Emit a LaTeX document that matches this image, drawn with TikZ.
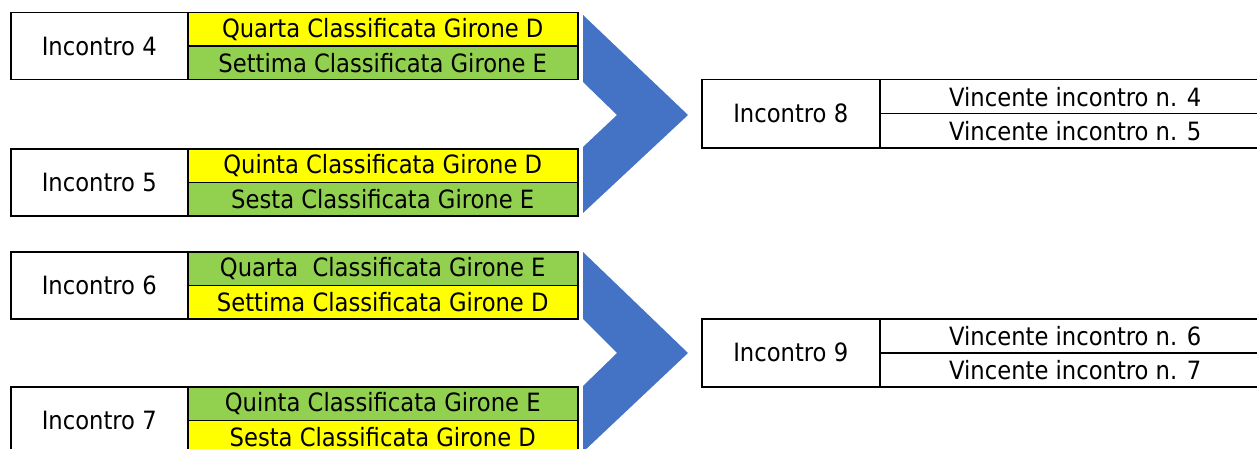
\documentclass[tikz,border=0pt]{standalone}
\usepackage{fontspec}
\setmainfont{DejaVu Sans Condensed}
\definecolor{giallo}{HTML}{FFFF00}
\definecolor{verde}{HTML}{92D050}
\definecolor{blu}{HTML}{4472C4}

\begin{document}
\begin{tikzpicture}[x=0.5pt, y=-0.5pt,
    every node/.style={draw, line width=0.75pt, inner sep=0pt, anchor=north west,
        font=\fontsize{12.6}{15}\selectfont},
    nome/.style={minimum width=88.5pt, minimum height=33.5pt, fill=white},
    riga/.style={minimum width=195pt, minimum height=16.75pt},
    gialla/.style={riga, fill=giallo},
    verde/.style={riga, fill=verde},
    vinc/.style={minimum width=195.5pt, minimum height=17pt, fill=white},
    freccia/.style={fill=blu}]
    \clip (0, 0) rectangle (1257, 449);

    \node[nome] (i4) at (10, 12) {Incontro 4};
    \node[gialla] (i4a) at (187, 12) {Quarta Classificata Girone D};
    \node[verde] (i4b) at (187, 45.5) {Settima Classificata Girone E};

    \node[nome] (i5) at (10, 148) {Incontro 5};
    \node[gialla] (i5a) at (187, 148) {Quinta Classificata Girone D};
    \node[verde] (i5b) at (187, 181.5) {Sesta Classificata Girone E};

    \node[nome] (i6) at (10, 251) {Incontro 6};
    \node[verde] (i6a) at (187, 251) {Quarta~~Classificata Girone E};
    \node[gialla] (i6b) at (187, 284.5) {Settima Classificata Girone D};

    \node[nome] (i7) at (10, 386) {Incontro 7};
    \node[verde] (i7a) at (187, 386) {Quinta Classificata Girone E};
    \node[gialla] (i7b) at (187, 419.5) {Sesta Classificata Girone D};

    \node[nome, minimum width=89pt, minimum height=34pt] (i8) at (701, 79) {Incontro 8};
    \node[vinc] (i8a) at (879, 79) {Vincente incontro n. 4};
    \node[vinc] (i8b) at (879, 113) {Vincente incontro n. 5};

    \node[nome, minimum width=89pt, minimum height=34pt] (i9) at (701, 318) {Incontro 9};
    \node[vinc] (i9a) at (879, 318) {Vincente incontro n. 6};
    \node[vinc] (i9b) at (879, 352) {Vincente incontro n. 7};

    % frecce
    \fill[freccia] (583, 15) -- (688, 115) -- (583, 213) -- (583, 147)
        -- (617, 115) -- (583, 82) -- cycle;
    \fill[freccia] (583, 252) -- (688, 353) -- (583, 452) -- (583, 386)
        -- (617, 353) -- (583, 319) -- cycle;
\end{tikzpicture}
\end{document}
